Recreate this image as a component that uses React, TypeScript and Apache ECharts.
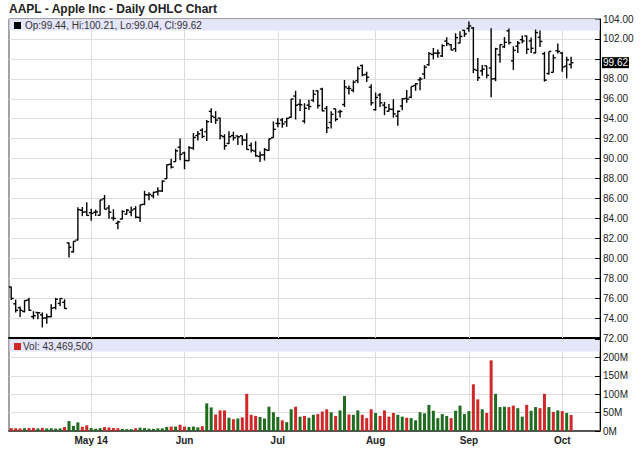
import React, { useEffect, useRef } from "react";
import * as echarts from "echarts";

// Trading days shown (2014), plus empty slots after the last bar
const aprDays = [4, 7, 8, 9, 10, 11, 14, 15, 16, 17, 21, 22, 23, 24, 25, 28, 29, 30];
const mayDays = [1, 2, 5, 6, 7, 8, 9, 12, 13, 14, 15, 16, 19, 20, 21, 22, 23, 27, 28, 29, 30];
const junDays = [2, 3, 4, 5, 6, 9, 10, 11, 12, 13, 16, 17, 18, 19, 20, 23, 24, 25, 26, 27, 30];
const julDays = [1, 2, 3, 7, 8, 9, 10, 11, 14, 15, 16, 17, 18, 21, 22, 23, 24, 25, 28, 29, 30, 31];
const augDays = [1, 4, 5, 6, 7, 8, 11, 12, 13, 14, 15, 18, 19, 20, 21, 22, 25, 26, 27, 28, 29];
const sepDays = [2, 3, 4, 5, 8, 9, 10, 11, 12, 15, 16, 17, 18, 19, 22, 23, 24, 25, 26, 29, 30];
const octDays = [1, 2, 3];
const octEmptyDays = [6, 7, 8, 9, 10, 13];

const monthTickDates = ["2014-05-01", "2014-06-02", "2014-07-01", "2014-08-01", "2014-09-02", "2014-10-01"];
const monthTickLabels = ["May 14", "Jun", "Jul", "Aug", "Sep", "Oct"];

const opens = [
  77.12, 75.43, 75.03, 74.66, 75.81, 74.14, 74.56, 74.32, 74.01, 74.14, 75.05, 75.47, 75.58, 81.54, 80.65, 81.83, 84.82, 84.66,
  84.57, 84.62, 84.31, 85.97, 85.04, 84.04, 83.51, 83.93, 84.43, 84.63, 84.96, 84.09, 85.41, 86.36, 86.26, 86.66, 86.75, 87.98, 89.43, 89.69, 91.14,
  90.57, 89.78, 91.06, 92.31, 92.84, 92.7, 94.73, 94.13, 94.04, 92.2, 91.51, 92.31, 92.27, 92.29, 91.85, 91.32, 90.75, 90.21, 90.37, 90.82, 92.1,
  93.52, 93.87, 93.67, 94.14, 96.27, 95.44, 93.76, 95.36, 95.86, 96.8, 96.97, 95.03, 93.62, 94.99, 94.68, 95.42, 97.04, 96.85, 97.82, 99.33, 98.44, 97.16,
  94.9, 96.37, 95.36, 94.75, 94.93, 94.26, 95.27, 96.04, 96.15, 97.33, 97.9, 98.49, 99.41, 100.44, 100.57, 100.29, 101.79, 101.42, 101.02, 101.59, 102.86,
  103.06, 103.1, 98.85, 98.8, 99.3, 99.08, 98.01, 100.41, 101.21, 102.81, 99.8, 101.27, 101.93, 102.29, 101.8, 100.6, 102.16, 100.51, 98.53, 98.65, 100.81,
  100.59, 99.27, 99.44,
];
const highs = [
  77.14, 75.84, 75.16, 75.78, 76.03, 74.69, 74.59, 74.57, 74.44, 75.39, 76.02, 75.98, 75.88, 81.57, 81.71, 85.11, 85.14, 85.63,
  84.97, 84.89, 85.86, 86.34, 85.33, 84.92, 83.75, 84.81, 84.93, 85.2, 85.23, 85.36, 86.76, 86.63, 86.67, 87.12, 87.82, 89.41, 89.98, 90.98, 92.02,
  90.69, 91.25, 92.56, 92.77, 93.04, 93.88, 95.05, 94.76, 94.12, 92.44, 92.75, 92.7, 92.29, 92.3, 92.55, 91.62, 91.74, 90.7, 91.05, 92.0, 93.73,
  94.07, 94.06, 94.1, 95.99, 96.8, 95.95, 95.55, 95.89, 96.89, 96.85, 97.1, 95.28, 94.74, 95.0, 94.89, 97.88, 97.32, 97.84, 99.24, 99.44, 98.7, 97.45,
  96.62, 96.58, 95.68, 95.48, 95.95, 94.82, 96.08, 96.88, 97.24, 97.57, 98.19, 99.37, 100.68, 101.09, 100.94, 101.47, 102.17, 101.5, 102.57, 102.78, 102.9,
  103.74, 103.2, 100.09, 99.39, 99.31, 103.08, 101.11, 101.44, 102.19, 103.05, 101.26, 101.8, 102.35, 102.35, 102.14, 102.94, 102.85, 100.71, 100.75, 100.44, 101.54,
  100.69, 100.22, 100.21,
];
const lows = [
  75.8, 74.56, 74.1, 74.57, 74.74, 73.88, 73.89, 73.06, 73.44, 74.08, 74.85, 75.21, 74.92, 80.07, 80.57, 81.79, 84.22, 84.26,
  83.77, 84.24, 84.29, 84.92, 83.96, 83.77, 82.9, 83.91, 84.39, 84.21, 84.01, 83.63, 85.33, 85.82, 86.01, 86.3, 86.64, 87.95, 89.01, 89.68, 89.84,
  88.93, 89.75, 90.87, 91.8, 92.07, 91.75, 93.57, 93.47, 91.9, 90.88, 91.45, 91.8, 91.35, 91.34, 90.9, 90.6, 90.19, 89.65, 89.8, 90.77, 92.09,
  93.13, 93.09, 93.2, 94.1, 93.92, 94.76, 93.52, 94.86, 95.65, 95.03, 94.74, 92.57, 93.02, 93.72, 94.12, 95.17, 96.42, 96.64, 97.55, 98.25, 97.67, 95.33,
  94.81, 95.17, 94.36, 94.71, 94.1, 93.28, 94.84, 95.61, 96.04, 96.8, 96.86, 97.98, 99.32, 99.95, 100.11, 100.19, 101.28, 100.86, 100.7, 101.56, 102.2,
  102.72, 98.58, 97.79, 98.31, 98.05, 96.14, 97.76, 99.62, 101.08, 101.44, 98.89, 100.59, 101.56, 100.5, 100.58, 100.54, 101.2, 97.72, 98.4, 98.63, 100.53,
  98.7, 98.04, 99.04,
];
const closes = [
  75.97, 74.78, 74.78, 75.76, 74.78, 74.23, 74.53, 73.99, 74.14, 74.99, 75.88, 75.96, 74.96, 81.11, 81.7, 84.87, 84.62, 84.3,
  84.5, 84.65, 85.85, 84.92, 84.62, 84.0, 83.65, 84.69, 84.82, 84.84, 84.12, 85.36, 86.37, 86.39, 86.62, 86.75, 87.73, 89.38, 89.14, 90.77, 90.43,
  89.81, 91.08, 92.12, 92.48, 92.22, 93.7, 94.25, 93.86, 92.29, 91.28, 92.2, 92.08, 92.18, 91.86, 90.91, 90.83, 90.28, 90.36, 90.9, 91.98, 92.93,
  93.52, 93.48, 94.03, 95.97, 95.35, 95.39, 95.04, 95.22, 96.45, 95.32, 94.78, 93.09, 94.43, 93.94, 94.72, 97.19, 97.03, 97.67, 99.02, 98.38, 98.15, 95.6,
  96.13, 95.59, 95.12, 94.96, 94.48, 94.74, 95.99, 95.97, 97.24, 97.5, 97.98, 99.16, 100.53, 100.57, 100.58, 101.32, 101.54, 100.89, 102.13, 102.25, 102.5,
  103.3, 98.94, 98.12, 98.97, 98.36, 97.99, 101.0, 101.43, 101.66, 101.63, 100.86, 101.58, 101.79, 100.96, 101.06, 102.64, 101.75, 97.87, 100.75, 100.11, 100.75,
  99.18, 99.9, 99.62,
];
// Volume, millions of shares
const volumes = [
  8, 7.5, 7, 7.5, 8, 8.5, 7, 8.5, 7, 7.5, 6.5, 7, 11, 27, 14, 23.5, 11.5, 15.5,
  8, 6, 7.5, 10.5, 9.5, 8, 7.5, 6, 5, 5, 7.5, 9, 8, 6.5, 6, 7, 7, 11, 12, 12, 17,
  12, 11, 12, 10, 13, 75, 64, 45, 56, 56, 36, 32, 34, 37, 101, 44, 41, 38, 34, 66, 51,
  38, 29, 24, 59, 66, 39, 41, 36, 44, 46, 53, 59, 51, 41, 56, 95, 45, 44, 56, 44, 35, 59,
  49, 41, 56, 39, 49, 44, 39, 36, 35, 29, 51, 48, 71, 55, 35, 46, 41, 35, 55, 69, 46,
  54, 127, 86, 59, 49, 192, 101, 65, 66, 65, 69, 62, 39, 71, 55, 65, 62, 101, 65, 52, 56,
  54, 49, 43.4695,
];

const FONT = '"Liberation Sans", Arial, sans-serif';
const GREEN = "#1f6b1f";
const RED = "#cf2828";
const BAND = "#e6e6fa";
const GRID = "#dedede";

const pad = (d: number) => (d < 10 ? "0" + d : "" + d);
const mk = (m: string, days: number[]) => days.map((d) => `2014-${m}-${pad(d)}`);

export default function App() {
  const ref = useRef<HTMLDivElement>(null);
  useEffect(() => {
    if (!ref.current) return;
    const chart = echarts.init(ref.current, undefined, { renderer: "svg" });
    const categories = [
      ...mk("04", aprDays), ...mk("05", mayDays), ...mk("06", junDays), ...mk("07", julDays),
      ...mk("08", augDays), ...mk("09", sepDays), ...mk("10", octDays), ...mk("10", octEmptyDays),
    ];
    const last = closes.length - 1;
    const ohlc = closes.map((c, i) => [i, opens[i], highs[i], lows[i], c]);
    const volData = volumes.map((v, i) => ({
      value: v,
      itemStyle: { color: (i === 0 ? closes[i] > opens[i] : closes[i] > closes[i - 1]) ? GREEN : RED },
    }));
    const lastClose = closes[last];
    const ohlcText = `Op:${opens[last].toFixed(2)}, Hi:${highs[last].toFixed(2)}, Lo:${lows[last].toFixed(2)}, Cl:${lastClose.toFixed(2)}`;
    const volText = `Vol: ${Math.round(volumes[last] * 1e6).toLocaleString("en-US")}`;
    const monthLines = monthTickDates.map((d) => ({ xAxis: d }));

    const option: any = {
      animation: false,
      backgroundColor: "#fff",
      grid: [
        { left: 9, right: 40, top: 19, height: 319, show: true, borderColor: "#444", borderWidth: 1 },
        { left: 9, right: 40, top: 339, height: 92, show: true, borderColor: "#444", borderWidth: 1 },
      ],
      xAxis: [
        {
          type: "category", gridIndex: 0, data: categories, boundaryGap: true,
          axisLine: { show: true, lineStyle: { color: "#000", width: 2 } },
          axisTick: { show: false }, axisLabel: { show: false }, splitLine: { show: false },
        },
        {
          type: "category", gridIndex: 1, data: categories, boundaryGap: true,
          axisLine: { show: true, lineStyle: { color: "#555", width: 2 } },
          axisTick: { show: false }, splitLine: { show: false },
          axisLabel: {
            interval: (_i: number, v: string) => monthTickDates.indexOf(v) >= 0,
            formatter: (v: string) => monthTickLabels[monthTickDates.indexOf(v)] ?? "",
            fontFamily: FONT, fontWeight: "bold", fontSize: 10, color: "#222", margin: 4,
          },
        },
      ],
      yAxis: [
        {
          type: "value", gridIndex: 0, position: "right", min: 72, max: 104, interval: 2,
          axisLine: { show: true, lineStyle: { color: "#000" } },
          axisTick: { show: true, inside: true, length: 5, lineStyle: { color: "#000" } },
          axisLabel: {
            fontFamily: FONT, fontSize: 10, color: "#222", margin: 3,
            formatter: (v: number) => (Math.abs(v - lastClose) < 1 ? "" : v.toFixed(2)),
          },
          splitLine: { show: true, lineStyle: { color: GRID } },
        },
        {
          type: "value", gridIndex: 1, position: "right", min: 0, max: 250, interval: 50,
          axisLine: { show: true, lineStyle: { color: "#000" } },
          axisTick: { show: true, inside: true, length: 5, lineStyle: { color: "#000" } },
          axisLabel: {
            fontFamily: FONT, fontSize: 10, color: "#222", margin: 3,
            formatter: (v: number) => (v >= 250 ? "" : v + "M"),
          },
          splitLine: { show: true, lineStyle: { color: GRID } },
        },
      ],
      series: [
        {
          type: "line", xAxisIndex: 0, yAxisIndex: 0, data: closes, symbol: "none", silent: true,
          lineStyle: { opacity: 0 }, z: 1,
          markLine: {
            silent: true, symbol: ["none", "none"], z: 0.5, animation: false,
            label: { show: false },
            lineStyle: { color: GRID, width: 1, type: "solid" },
            data: monthLines,
          },
        },
        {
          type: "line", xAxisIndex: 0, yAxisIndex: 0, data: [], symbol: "none", silent: true, z: 6,
          markLine: {
            silent: true, symbol: ["none", "none"], z: 6, animation: false,
            lineStyle: { color: "rgba(0,0,0,0)", width: 1, type: "solid" },
            label: {
              show: true, position: "end", distance: 2, formatter: lastClose.toFixed(2),
              backgroundColor: "#000", color: "#fff", fontFamily: FONT, fontSize: 10,
              padding: [1, 1, 0, 1],
            },
            data: [{ yAxis: lastClose }],
          },
        },
        {
          type: "custom", xAxisIndex: 0, yAxisIndex: 0, data: ohlc, z: 3,
          encode: { x: 0, y: [1, 2, 3, 4] },
          renderItem: (_params: any, api: any) => {
            const idx = api.value(0);
            const [x, yo] = api.coord([idx, api.value(1)]);
            const yh = api.coord([idx, api.value(2)])[1];
            const yl = api.coord([idx, api.value(3)])[1];
            const yc = api.coord([idx, api.value(4)])[1];
            const st = { stroke: "#000", lineWidth: 1.4 };
            return {
              type: "group",
              children: [
                { type: "line", shape: { x1: x, y1: yh, x2: x, y2: yl }, style: st },
                { type: "line", shape: { x1: x - 2.4, y1: yo, x2: x, y2: yo }, style: st },
                { type: "line", shape: { x1: x, y1: yc, x2: x + 2.4, y2: yc }, style: st },
              ],
            };
          },
        },
        {
          type: "bar", xAxisIndex: 1, yAxisIndex: 1, data: volData, barWidth: 3, z: 3,
          markLine: {
            silent: true, symbol: ["none", "none"], z: 0.5, animation: false,
            label: { show: false },
            lineStyle: { color: GRID, width: 1, type: "solid" },
            data: monthLines,
          },
        },
      ],
      graphic: [
        {
          type: "text", x: 9, y: 3, z: 10,
          style: { text: "AAPL - Apple Inc - Daily OHLC Chart", font: `bold 12px ${FONT}`, fill: "#222" },
        },
        { type: "rect", z: 1, silent: true, shape: { x: 9.5, y: 19.5, width: 590, height: 11 }, style: { fill: BAND } },
        { type: "rect", z: 2, shape: { x: 14, y: 22, width: 7, height: 7 }, style: { fill: "#000" } },
        {
          type: "text", x: 25, y: 20, z: 2,
          style: { text: ohlcText, font: `10px ${FONT}`, fill: "#333" },
        },
        { type: "rect", z: 1, silent: true, shape: { x: 9.5, y: 340, width: 590, height: 11.5 }, style: { fill: BAND } },
        { type: "rect", z: 2, shape: { x: 14, y: 343, width: 7, height: 7 }, style: { fill: RED } },
        {
          type: "text", x: 23, y: 341, z: 2,
          style: { text: volText, font: `10px ${FONT}`, fill: "#333" },
        },
      ],
    };
    chart.setOption(option);
    return () => chart.dispose();
  }, []);
  return (
    <div
      ref={ref}
      style={{ position: "absolute", left: 0, top: 0, width: 640, height: 468, background: "#fff" }}
    />
  );
}
